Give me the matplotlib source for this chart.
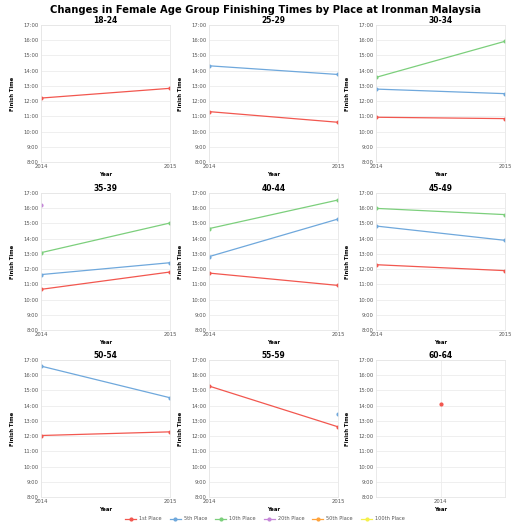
import numpy as np
import matplotlib
matplotlib.use("Agg")
import matplotlib.pyplot as plt

nan = np.nan
age_groups = ["18-24", "25-29", "30-34", "35-39", "40-44", "45-49", "50-54", "55-59", "60-64"]
years = [2014, 2015]
places = ["1st Place", "5th Place", "10th Place", "20th Place", "50th Place", "100th Place"]
colors = ["#f2574f", "#6fa8dc", "#7ccf7c", "#c586d8", "#ffa23a", "#f5f04a"]

# finish times in hours, [2014, 2015] per age group
first_place = [[12.20, 12.84], [11.31, 10.61], [10.94, 10.85], [10.67, 11.81], [11.74, 10.93],
               [12.29, 11.90], [12.04, 12.28], [15.29, 12.61], [14.12, nan]]
fifth_place = [[nan, nan], [14.32, 13.75], [12.79, 12.49], [11.64, 12.42], [12.82, 15.29],
               [14.83, 13.89], [16.60, 14.52], [nan, 13.44], [nan, nan]]
tenth_place = [[nan, nan], [nan, nan], [13.56, 15.93], [13.08, 15.03], [14.66, 16.54],
               [15.99, 15.58], [nan, nan], [nan, nan], [nan, nan]]
twentieth_place = [[nan, nan], [nan, nan], [nan, nan], [16.23, nan], [nan, nan],
                   [nan, nan], [nan, nan], [nan, nan], [nan, nan]]
fiftieth_place = [[nan, nan]] * 9
hundredth_place = [[nan, nan]] * 9
series = [first_place, fifth_place, tenth_place, twentieth_place, fiftieth_place, hundredth_place]

y_ticks = list(range(8, 18))
y_tick_labels = [f"{h}:00" for h in y_ticks]

W = H = 530
fig = plt.figure(figsize=(5.3, 5.3), dpi=100)
fig.patch.set_facecolor("white")

col_left = [41, 209, 376]
col_w = 129
row_top = [25, 193, 360]
row_h = 137

fig.text(0.5, 1 - 10 / H, "Changes in Female Age Group Finishing Times by Place at Ironman Malaysia",
         ha="center", va="center", fontsize=7.2, fontweight="bold")

handles = []
for i, ag in enumerate(age_groups):
    r, c = divmod(i, 3)
    ax = fig.add_axes([col_left[c] / W, 1 - (row_top[r] + row_h) / H, col_w / W, row_h / H])
    single = ag == "60-64"
    for s, col, lab in zip(series, colors, places):
        vals = np.array(s[i], dtype=float)
        h, = ax.plot(years, vals, color=col, lw=0.9, marker="o", ms=2.0, label=lab)
        if i == 0:
            handles.append(h)
    ax.set_ylim(8, 17)
    ax.set_yticks(y_ticks)
    ax.set_yticklabels(y_tick_labels)
    if single:
        ax.set_xlim(2013.5, 2014.5)
        ax.set_xticks([2014])
    else:
        ax.set_xlim(2014, 2015)
        ax.set_xticks(years)
    ax.grid(True, color="#ececec", lw=0.6)
    ax.set_axisbelow(True)
    for sp in ax.spines.values():
        sp.set_color("#e6e6e6")
        sp.set_linewidth(0.6)
    ax.tick_params(length=0, labelsize=3.8, labelcolor="#555555", pad=1.5)
    ax.set_title(ag, fontsize=5.5, fontweight="bold", pad=0.8)
    ax.set_ylabel("Finish Time", fontsize=3.8, fontweight="bold", labelpad=6)
    ax.set_xlabel("Year", fontsize=3.8, fontweight="bold", labelpad=2)

fig.legend(handles=handles, labels=places, loc="center", bbox_to_anchor=(0.5, 1 - 519 / H),
           ncol=6, frameon=False, fontsize=3.6, handlelength=2.2, columnspacing=1.6,
           handletextpad=0.6, labelcolor="#555555")

fig.savefig("out.png", dpi=100, facecolor="white")
